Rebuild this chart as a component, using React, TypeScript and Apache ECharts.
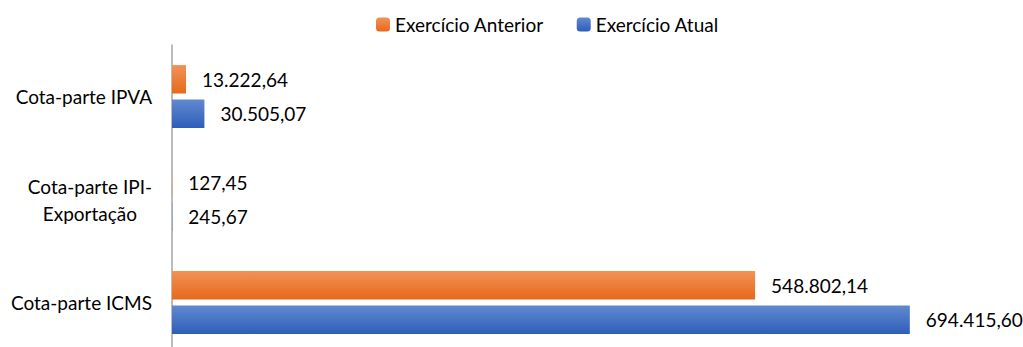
import React, { useEffect, useRef } from "react";
import * as echarts from "echarts";

const categories = ["Cota-parte IPVA", "Cota-parte IPI-Exportação", "Cota-parte ICMS"];
const seriesNames = ["Exercício Anterior", "Exercício Atual"];
const anterior = [13222.64, 127.45, 548802.14];
const atual = [30505.07, 245.67, 694415.6];

const FONT = "Lato, 'Noto Sans', sans-serif";

// Brazilian number format: 1.234,56
function fmtBR(v: number): string {
  const [int, dec] = v.toFixed(2).split(".");
  const withDots = int.replace(/\B(?=(\d{3})+(?!\d))/g, ".");
  return `${withDots},${dec}`;
}

function grad(top: string, bottom: string) {
  return new echarts.graphic.LinearGradient(0, 0, 0, 1, [
    { offset: 0, color: top },
    { offset: 1, color: bottom },
  ]);
}

export default function App() {
  const ref = useRef<HTMLDivElement>(null);

  useEffect(() => {
    if (!ref.current) return;
    const chart = echarts.init(ref.current, undefined, { renderer: "svg" });
    const labelStyle = {
      show: true,
      position: "right" as const,
      distance: 16,
      color: "#000",
      fontSize: 19,
      fontFamily: FONT,
      formatter: (p: any) => fmtBR(p.value),
    };
    chart.setOption({
      animation: false,
      textStyle: { fontFamily: FONT },
      legend: {
        top: 10,
        left: 371,
        itemWidth: 14,
        itemHeight: 14,
        itemGap: 33,
        textStyle: { fontSize: 19, color: "#000", fontFamily: FONT },
        data: seriesNames,
      },
      // the plot area runs a little past the bottom edge of the visible frame
      grid: { left: 172, width: 850, top: 45, height: 309 },
      xAxis: { type: "value", min: 0, max: 800000, show: false },
      yAxis: {
        type: "category",
        inverse: true,
        data: categories,
        axisTick: { show: false },
        axisLine: { lineStyle: { color: "#a6a6a6", width: 1.5 } },
        axisLabel: {
          margin: 20,
          color: "#000",
          fontSize: 19,
          fontFamily: FONT,
          lineHeight: 27,
          formatter: (v: string) =>
            v === "Cota-parte IPI-Exportação"
              ? "{c|Cota-parte IPI-}\n{c|Exportação}"
              : v,
          rich: { c: { align: "center", fontSize: 19, fontFamily: FONT, color: "#000", lineHeight: 27 } },
        },
      },
      series: [
        {
          name: seriesNames[0],
          type: "bar",
          data: anterior,
          barGap: "21%",
          barCategoryGap: "39%",
          itemStyle: { color: grad("#f29257", "#e5691b") },
          label: labelStyle,
        },
        {
          name: seriesNames[1],
          type: "bar",
          data: atual,
          barGap: "21%",
          barCategoryGap: "39%",
          itemStyle: { color: grad("#6189d0", "#2e5eb9") },
          label: labelStyle,
        },
      ],
    });
    return () => chart.dispose();
  }, []);

  return (
    <div style={{ position: "fixed", left: 0, top: 0, width: 1023, height: 347, overflow: "hidden", background: "#fff" }}>
      <div ref={ref} style={{ width: 1023, height: 360 }} />
    </div>
  );
}
